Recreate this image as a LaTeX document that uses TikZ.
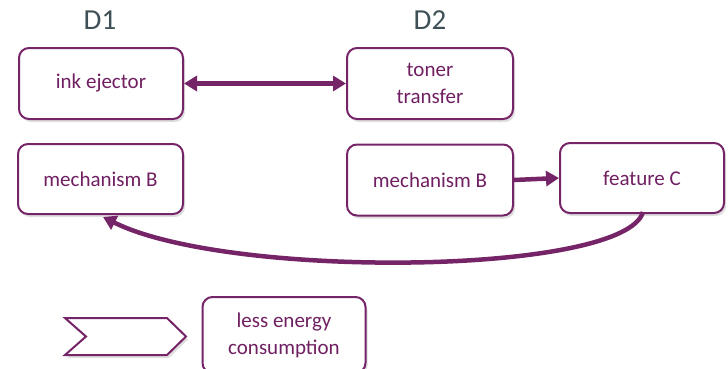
\documentclass[tikz,border=0pt]{standalone}
\usepackage{fontspec}
\setmainfont{Carlito}
\usetikzlibrary{arrows.meta,shadows,positioning}
\definecolor{boxcol}{RGB}{118,36,104}
\definecolor{txtcol}{RGB}{112,32,98}
\definecolor{labcol}{RGB}{62,80,86}
\tikzset{
  box/.style={draw=boxcol, line width=2pt, rounded corners=10pt, fill=white,
    text=txtcol, align=center, font=\fontsize{21}{27}\selectfont,
    drop shadow={shadow xshift=2pt, shadow yshift=-3pt, opacity=0.25, fill=gray},
    inner sep=0pt},
  conn/.style={draw=boxcol, line width=4.5pt, -{Triangle[length=13pt,width=15pt]}},
  dlab/.style={text=labcol, font=\fontsize{29}{32}\selectfont},
}
\begin{document}
\begin{tikzpicture}[x=1pt,y=-1pt]
\useasboundingbox (0,0) rectangle (728,368);
\node[dlab] (d1) at (100,20) {D1};
\node[dlab] (d2) at (430,20) {D2};
\node[box, minimum width=164pt, minimum height=71pt] (ink) at (101,83.5) {ink ejector};
\node[box, minimum width=165pt, minimum height=70pt] (mb1) at (100.5,179) {mechanism B};
\node[box, minimum width=166pt, minimum height=71pt] (toner) at (430,83.5) {toner\\transfer};
\node[box, minimum width=166pt, minimum height=71pt] (mb2) at (430,180) {mechanism B};
\node[box, minimum width=164pt, minimum height=70pt] (feat) at (642,178) {feature C};
\node[box, minimum width=163pt, minimum height=76pt] (less) at (284,335) {less energy\\consumption};
\draw[conn, {Triangle[length=13pt,width=15pt]}-{Triangle[length=13pt,width=15pt]}] (ink.east) -- (toner.west);
\draw[conn] (mb2.east) -- (feat.west);
\coordinate (cs) at (643,212);
\coordinate (ce) at (103,217);
\draw[conn] (cs) .. controls (625,275) and (230,280) .. (ce);
\draw[draw=boxcol, line width=2pt, fill=white, line join=miter,
  drop shadow={shadow xshift=2pt, shadow yshift=-3pt, opacity=0.25, fill=gray}]
  (65,318) -- (167,318) -- (186,336.5) -- (167,355) -- (65,355) -- (86,336.5) -- cycle;
\end{tikzpicture}
\end{document}
